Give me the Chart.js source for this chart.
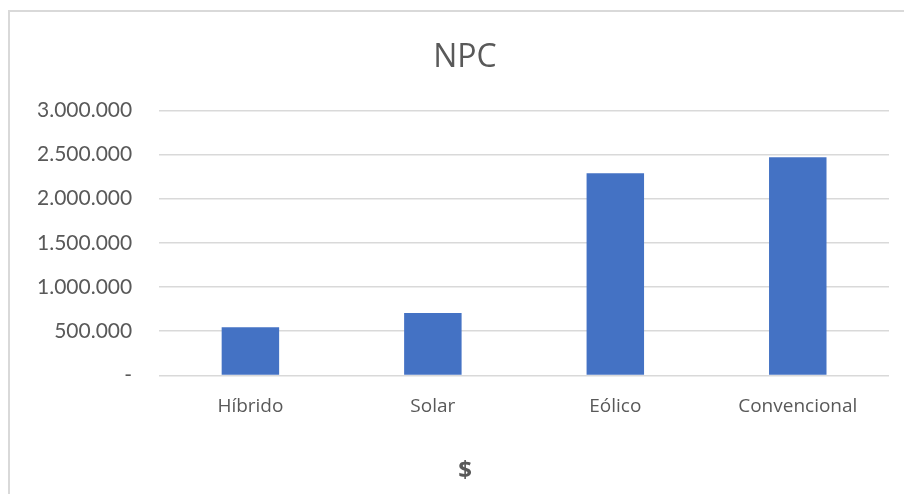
<!DOCTYPE html>
<html>
<head>
<meta charset="utf-8">
<script src="https://cdn.jsdelivr.net/npm/chart.js@4/dist/chart.umd.min.js"></script>
<style>
  html, body { margin: 0; padding: 0; background: #fff; overflow: hidden; }
  #frame {
    position: absolute;
    left: 8px;
    top: 10px;
    width: 910px;
    height: 500px;
    border: 2px solid #d9d9d9;
    background: #fff;
  }
  #npcChart { display: block; }
</style>
</head>
<body>
<div id="frame">
  <canvas id="npcChart" width="910" height="500"></canvas>
</div>
<script>
var systems = ['Híbrido', 'Solar', 'Eólico', 'Convencional'];
var npcValues = [545000, 707000, 2289000, 2470000];
var yTicks = [0, 500000, 1000000, 1500000, 2000000, 2500000, 3000000];

var textColor = '#595959';
var gridColor = '#d9d9d9';

// 3000000 -> "3.000.000", zero shown as a dash
function formatMoney(value) {
  if (value === 0) {
    return '-';
  }
  return String(value).replace(/\B(?=(\d{3})+(?!\d))/g, '.');
}

var ctx = document.getElementById('npcChart').getContext('2d');

new Chart(ctx, {
  type: 'bar',
  data: {
    labels: systems,
    datasets: [{
      label: 'NPC',
      data: npcValues,
      backgroundColor: '#4472c4',
      borderWidth: 0,
      barPercentage: 0.45,
      categoryPercentage: 0.7
    }]
  },
  options: {
    responsive: false,
    animation: false,
    layout: {
      padding: 0
    },
    plugins: {
      legend: { display: false },
      tooltip: { enabled: false },
      title: {
        display: true,
        text: 'NPC',
        color: textColor,
        font: { family: 'Open Sans', size: 32, weight: 'normal' },
        padding: { top: 27, bottom: 33 }
      },
      // "$" sits centred under the whole chart, below the category labels
      subtitle: {
        display: true,
        text: '$',
        position: 'bottom',
        color: textColor,
        font: { family: 'Open Sans', size: 24, weight: 'bold' },
        padding: { top: 19, bottom: 26 }
      }
    },
    scales: {
      x: {
        grid: { display: false, drawTicks: false },
        border: { display: false },
        ticks: {
          color: textColor,
          padding: 20,
          font: { family: 'Open Sans', size: 19 }
        }
      },
      y: {
        min: 0,
        max: 3000000,
        afterBuildTicks: function (axis) {
          axis.ticks = yTicks.map(function (v) { return { value: v }; });
        },
        grid: {
          color: gridColor,
          lineWidth: 1.5,
          drawTicks: false
        },
        border: { display: false },
        ticks: {
          color: textColor,
          padding: 27,
          font: { family: 'Lato', size: 21 },
          callback: function (value) {
            return formatMoney(value);
          }
        }
      },
      // empty right-hand axis, only keeps a margin right of the plot
      // without pulling the titles off centre
      yRight: {
        position: 'right',
        grid: { display: false, drawTicks: false },
        border: { display: false },
        ticks: { display: false },
        afterFit: function (axis) {
          axis.width = 31;
        }
      }
    }
  }
});
</script>
</body>
</html>
